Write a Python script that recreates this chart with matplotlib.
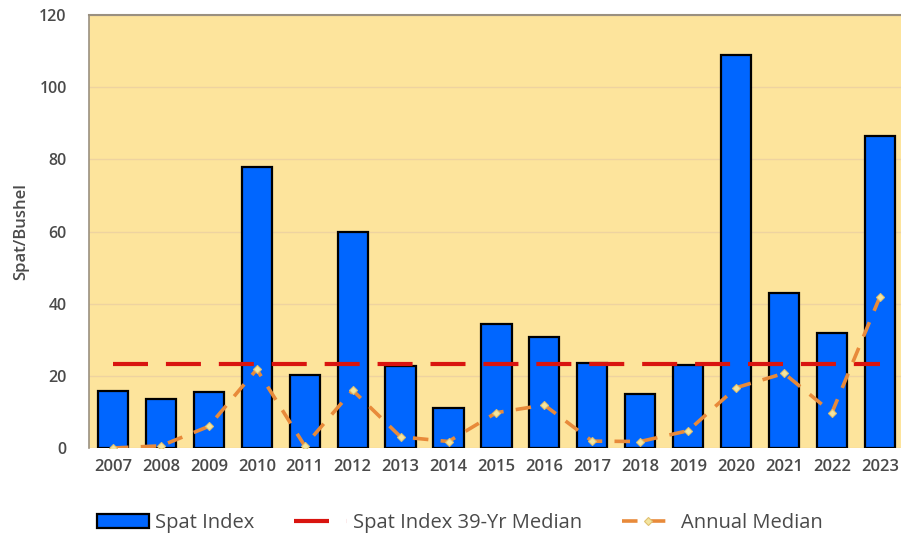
import numpy as np
import matplotlib
matplotlib.use('Agg')
import matplotlib.pyplot as plt

years = ['2007', '2008', '2009', '2010', '2011', '2012', '2013', '2014', '2015',
         '2016', '2017', '2018', '2019', '2020', '2021', '2022', '2023']
spat_index = [15.8, 13.5, 15.5, 78, 20.1, 59.8, 22.7, 11.2, 34.3,
              30.8, 23.5, 15, 23, 109, 43, 32, 86.4]
annual_median = [0, 0.6, 6, 21.8, 0.6, 16, 3.1, 1.8, 9.8,
                 11.9, 1.9, 1.8, 4.8, 16.7, 20.7, 9.8, 41.9]
long_median = 23.3

plt.rcParams['font.family'] = ['Open Sans', 'DejaVu Sans']
txt_col = '#4A4A4A'

fig = plt.figure(figsize=(9.01, 5.46), dpi=100)
ax = fig.add_axes([89/901, 1 - 448/546, 1 - 89/901, 433/546])
ax.set_facecolor('#FDE49C')

x = np.arange(len(years))
bars = ax.bar(x, spat_index, width=0.63, color='#0066FF', edgecolor='black',
              linewidth=1.6, zorder=3, label='Spat Index')
med, = ax.plot([x[0], x[-1]], [long_median, long_median], '--', color='#D9140F',
               linewidth=3, dashes=(8.4, 4.3), zorder=4,
               label='Spat Index 39-Yr Median')
ann, = ax.plot(x, annual_median, '--', color='#E88A3A', linewidth=2.6,
               dashes=(4.3, 3.4), marker='D', markersize=4.5,
               markerfacecolor='#F3E5A0', markeredgecolor='#E0C070',
               markeredgewidth=0.8, zorder=5, label='Annual Median')

ax.set_xlim(-0.5, 16.44)
ax.set_ylim(0, 120)
ax.set_yticks(np.arange(0, 121, 20))
ax.set_xticks(x)
ax.set_xticklabels(years)
ax.yaxis.grid(True, color='#EED3A0', linewidth=1, zorder=0)
ax.tick_params(axis='both', length=0, labelsize=11.5, labelcolor=txt_col)
ax.tick_params(axis='x', pad=8, labelsize=12)
ax.tick_params(axis='y', pad=16)
for lbl in ax.get_xticklabels() + ax.get_yticklabels():
    lbl.set_fontweight('semibold')
for side in ['right', 'bottom']:
    ax.spines[side].set_visible(False)
ax.spines['top'].set_color('#9A9080')
ax.spines['left'].set_color('#9A9080')
ax.spines['top'].set_linewidth(1.5)
ax.spines['left'].set_linewidth(1.2)
ax.set_ylabel('Spat/Bushel', fontsize=12, color=txt_col, labelpad=7,
              fontweight='semibold')

fig.legend([bars, med, ann], ['Spat Index', 'Spat Index 39-Yr Median', 'Annual Median'],
           loc='lower center', bbox_to_anchor=(0.51, -0.01), ncol=3, frameon=False,
           fontsize=14.5, labelcolor=txt_col, handlelength=2.6,
           columnspacing=2.0, handletextpad=0.3)

fig.savefig('out.png', dpi=100)
